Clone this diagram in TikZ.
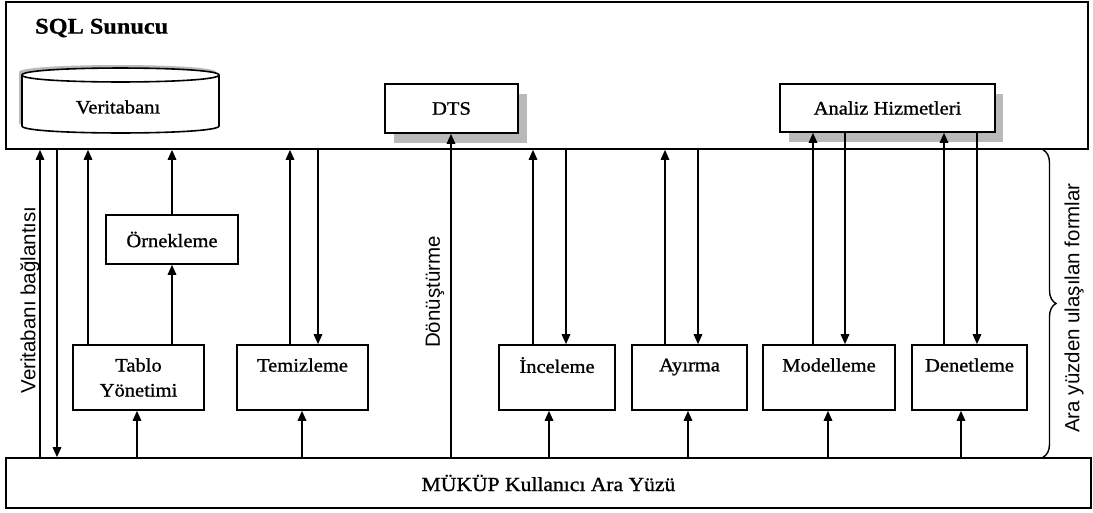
\documentclass[tikz,border=0pt]{standalone}
\usepackage{fontspec}
\setmainfont{Liberation Serif}[FakeStretch=1.08, FakeBold=1.0, BoldFeatures={FakeBold=0.6}]
\setsansfont{Liberation Sans}
\usetikzlibrary{arrows.meta,decorations.pathreplacing}
\begin{document}
\begin{tikzpicture}[x=1pt,y=-1pt,
  arr/.style={-{Triangle[width=8.5pt,length=10pt]}, line width=1.6pt},
  box/.style={draw, line width=1.6pt, fill=white, inner sep=2pt, align=center, font=\fontsize{19}{25}\selectfont},
  shadowfill/.style={fill=gray!55, draw=none},
  lbl/.style={font=\fontsize{19}{23}\selectfont, inner sep=0pt},
  vlbl/.style={font=\sffamily\fontsize{20.5}{24}\selectfont, rotate=90, inner sep=0pt},
  frame/.style={draw, line width=1.6pt, inner sep=0pt}]
\useasboundingbox (0,0) rectangle (1093,512);
\fill[white] (0,0) rectangle (1093,512);

% SQL server frame
\node[frame, minimum width=1082, minimum height=147] (sql) at (547,75.5) {};
\node[font=\bfseries\fontsize{22.5}{26}\selectfont, anchor=west, inner sep=0pt] (title) at (35,28) {SQL Sunucu};

% database cylinder
\fill[gray!55, shift={(-3,-3)}] (22,75) -- (22,126) .. controls (22,135.3) and (219,135.3) .. (219,126) -- (219,75) .. controls (219,65.7) and (22,65.7) .. (22,75) -- cycle;
\filldraw[fill=white, line width=1.6pt] (22,75) -- (22,126) .. controls (22,135.3) and (219,135.3) .. (219,126) -- (219,75) .. controls (219,65.7) and (22,65.7) .. (22,75) -- cycle;
\draw[line width=1.6pt] (22,75) .. controls (22,84.3) and (219,84.3) .. (219,75);
\node[lbl] (db) at (118,107) {Veritabanı};

% DTS and Analiz with shadows
\fill[shadowfill] (394,94) rectangle (527,143);
\node[box, minimum width=133, minimum height=49] (dts) at (451.5,108.5) {DTS};
\fill[shadowfill] (789,94) rectangle (1003,142);
\node[box, minimum width=215, minimum height=48] (analiz) at (887.5,108) {Analiz Hizmetleri};

% bottom interface
\node[frame, minimum width=1085, minimum height=50, font=\fontsize{20}{24}\selectfont] (mukup) at (548.5,483) {MÜKÜP Kullanıcı Ara Yüzü};

% modules
\node[box, minimum width=132, minimum height=49] (ornek) at (172,239.5) {Örnekleme};
\node[box, minimum width=131, minimum height=65] (tablo) at (138.5,377.5) {Tablo\\Yönetimi};
\node[box, minimum width=131, minimum height=65] (temiz) at (302.5,377.5) {Temizleme\\\phantom{Y}};
\node[box, minimum width=116, minimum height=65] (incele) at (557,377.5) {İnceleme\\\phantom{Y}};
\node[box, minimum width=115, minimum height=65] (ayir) at (689.5,377.5) {Ayırma\\\phantom{Y}};
\node[box, minimum width=132, minimum height=65] (model) at (829,377.5) {Modelleme\\\phantom{Y}};
\node[box, minimum width=115, minimum height=65] (denet) at (969.5,377.5) {Denetleme\\\phantom{Y}};

% database connection
\draw[arr] (mukup.north -| 40,0) -- (sql.south -| 40,0);
\draw[arr] (sql.south -| 57,0) -- (mukup.north -| 57,0);

% Tablo / Örnekleme
\draw[arr] (tablo.north -| 88,0) -- (sql.south -| 88,0);
\draw[arr] (tablo.north -| ornek.south) -- (ornek.south);
\draw[arr] (ornek.north) -- (sql.south -| ornek.north);
\draw[arr] (mukup.north -| 137,0) -- (tablo.south -| 137,0);

% Temizleme
\draw[arr] (temiz.north -| 290,0) -- (sql.south -| 290,0);
\draw[arr] (sql.south -| 318,0) -- (temiz.north -| 318,0);
\draw[arr] (mukup.north -| 302,0) -- (temiz.south -| 302,0);

% DTS
\draw[arr] (mukup.north -| 451,0) -- (dts.south -| 451,0);

% Inceleme
\draw[arr] (incele.north -| 533,0) -- (sql.south -| 533,0);
\draw[arr] (sql.south -| 566,0) -- (incele.north -| 566,0);
\draw[arr] (mukup.north -| 549,0) -- (incele.south -| 549,0);

% Ayirma
\draw[arr] (ayir.north -| 665,0) -- (sql.south -| 665,0);
\draw[arr] (sql.south -| 698,0) -- (ayir.north -| 698,0);
\draw[arr] (mukup.north -| 688,0) -- (ayir.south -| 688,0);

% Modelleme
\draw[arr] (model.north -| 813,0) -- (analiz.south -| 813,0);
\draw[arr] (analiz.south -| 845,0) -- (model.north -| 845,0);
\draw[arr] (mukup.north -| 828,0) -- (model.south -| 828,0);

% Denetleme
\draw[arr] (denet.north -| 944,0) -- (analiz.south -| 944,0);
\draw[arr] (analiz.south -| 977,0) -- (denet.north -| 977,0);
\draw[arr] (mukup.north -| 961,0) -- (denet.south -| 961,0);

% brace
\draw[line width=1.4pt, decorate, decoration={brace, amplitude=13pt}] (sql.south -| 1043,0) -- (mukup.north -| 1043,0);

% vertical labels
\node[vlbl] (vb) at (30,300) {Veritabanı bağlantısı};
\node[vlbl] (donus) at (435,292) {Dönüştürme};
\node[vlbl] (ara) at (1074,308) {Ara yüzden ulaşılan formlar};
\end{tikzpicture}
\end{document}
